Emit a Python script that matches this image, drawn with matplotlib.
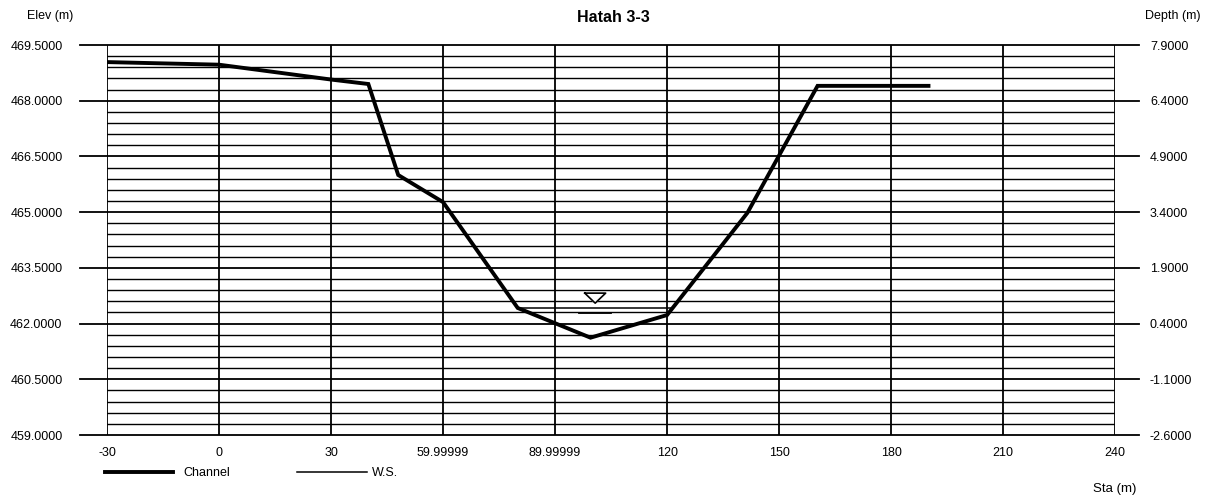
import numpy as np
import matplotlib.pyplot as plt
from matplotlib.lines import Line2D

plt.rcParams['font.family'] = ['Liberation Sans', 'DejaVu Sans']

# Cross-section data (station m, elevation m)
sta = [-30, 0, 30, 40, 48, 60, 80, 99.5, 120, 141.5, 160.3, 190]
elev = [469.04, 468.97, 468.57, 468.45, 466.0, 465.27, 462.42, 461.62, 462.23, 464.98, 468.4, 468.4]

# Water surface
ws_elev = 462.42
ws_sta = [80, 121.5]

# Axis settings
x_ticks = [-30, 0, 30, 60, 90, 120, 150, 180, 210, 240]
x_labels = ['-30', '0', '30', '59.99999', '89.99999', '120', '150', '180', '210', '240']
elev_ticks = np.arange(459.0, 469.51, 1.5)
depth_offset = 461.6  # thalweg elevation

fig = plt.figure(figsize=(12.14, 5), dpi=100)
ax = fig.add_axes([0.0881, 0.13, 0.8305, 0.78])
ax.set_xlim(-30, 240)
ax.set_ylim(459.0, 469.5)
for s in ax.spines.values():
    s.set_visible(False)

# grid: vertical lines, major horizontals (extending past the box) and minors
for xv in x_ticks:
    ax.axvline(xv, color='black', lw=1.3, zorder=1)
for yv in elev_ticks:
    ax.plot([-0.027, 1.024], [yv, yv], color='black', lw=1.3,
            transform=ax.get_yaxis_transform(), clip_on=False, zorder=1)
for yv in np.arange(459.0, 469.5, 0.3):
    if not np.isclose((yv - 459.0) % 1.5, 0) and not np.isclose((yv - 459.0) % 1.5, 1.5):
        ax.axhline(yv, color='black', lw=1.0, zorder=1)

# channel and water surface
ax.plot(sta, elev, color='black', lw=2.8, zorder=3, solid_joinstyle='miter')
ax.plot(ws_sta, [ws_elev, ws_elev], color='black', lw=1.1, zorder=2)

# water surface symbol
xc = np.mean(ws_sta)
tri_x = [xc - 2.8, xc + 2.8, xc, xc - 2.8]
tri_y = [ws_elev + 0.40, ws_elev + 0.40, ws_elev + 0.13, ws_elev + 0.40]
ax.fill(tri_x, tri_y, color='white', zorder=4)
ax.plot(tri_x, tri_y, color='black', lw=1.2, zorder=5)
ax.plot([xc - 4.3, xc + 4.3], [ws_elev - 0.13, ws_elev - 0.13], color='black', lw=1.3, zorder=4)

ax.set_xticks(x_ticks)
ax.set_xticklabels(x_labels)
ax.set_yticks(elev_ticks)
ax.set_yticklabels(['%.4f' % v for v in elev_ticks])
ax.tick_params(axis='x', length=0, pad=9, labelsize=9)
ax.tick_params(axis='y', length=0, pad=32, labelsize=9)

ax2 = ax.twinx()
for s in ax2.spines.values():
    s.set_visible(False)
ax2.set_ylim(459.0 - depth_offset, 469.5 - depth_offset)
depth_ticks = elev_ticks - depth_offset
ax2.set_yticks(depth_ticks)
ax2.set_yticklabels(['%.4f' % v for v in depth_ticks])
ax2.tick_params(axis='y', length=0, pad=25, labelsize=9)

# titles
fig.text(0.505, 0.966, 'Hatah 3-3', ha='center', va='center', fontsize=11.5, fontweight='bold')
fig.text(0.022, 0.968, 'Elev (m)', ha='left', va='center', fontsize=9)
fig.text(0.943, 0.968, 'Depth (m)', ha='left', va='center', fontsize=9)
fig.text(0.918, 0.022, 'Sta (m)', ha='center', va='center', fontsize=9.5)

# legend
fig.add_artist(Line2D([105 / 1214, 173 / 1214], [0.056, 0.056], color='black', lw=2.8))
fig.text(183 / 1214, 0.054, 'Channel', ha='left', va='center', fontsize=9)
fig.add_artist(Line2D([297 / 1214, 367 / 1214], [0.056, 0.056], color='black', lw=1.1))
fig.text(372 / 1214, 0.054, 'W.S.', ha='left', va='center', fontsize=9)

fig.savefig('out.png', dpi=100)
